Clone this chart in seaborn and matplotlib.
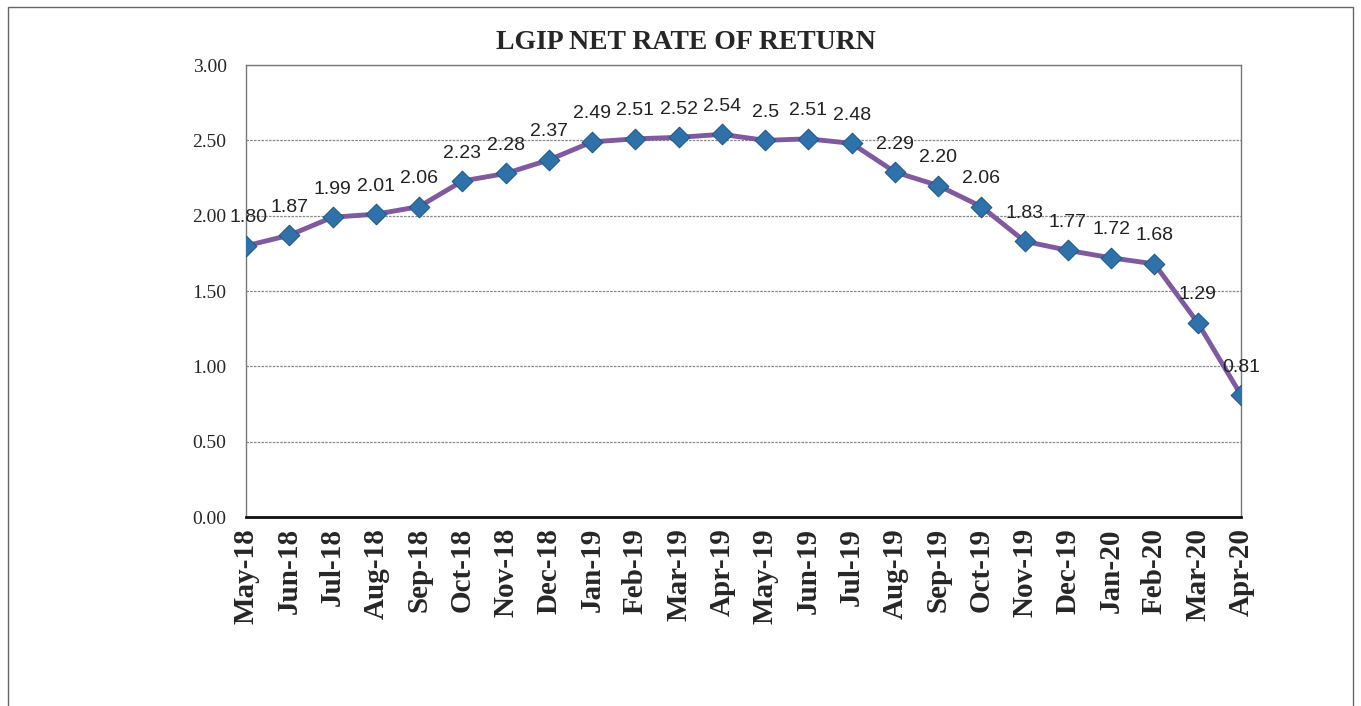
import matplotlib
matplotlib.use("Agg")
import matplotlib.pyplot as plt
import seaborn as sns
import pandas as pd
from matplotlib.patches import Rectangle

months = ["May-18", "Jun-18", "Jul-18", "Aug-18", "Sep-18", "Oct-18", "Nov-18", "Dec-18",
          "Jan-19", "Feb-19", "Mar-19", "Apr-19", "May-19", "Jun-19", "Jul-19", "Aug-19",
          "Sep-19", "Oct-19", "Nov-19", "Dec-19", "Jan-20", "Feb-20", "Mar-20", "Apr-20"]
rates = [1.80, 1.87, 1.99, 2.01, 2.06, 2.23, 2.28, 2.37, 2.49, 2.51, 2.52, 2.54,
         2.50, 2.51, 2.48, 2.29, 2.20, 2.06, 1.83, 1.77, 1.72, 1.68, 1.29, 0.81]
labels = ["1.80", "1.87", "1.99", "2.01", "2.06", "2.23", "2.28", "2.37", "2.49", "2.51",
          "2.52", "2.54", "2.5", "2.51", "2.48", "2.29", "2.20", "2.06", "1.83", "1.77",
          "1.72", "1.68", "1.29", "0.81"]

df = pd.DataFrame({"month": months, "rate": rates})
df["pos"] = range(len(df))

sns.set_style("white")
plt.rcParams["font.family"] = ["Liberation Serif", "DejaVu Serif"]

fig = plt.figure(figsize=(13.61, 7.06), dpi=100)
ax = fig.add_axes([0.1808, 0.2677, 0.7310, 0.6402])

sns.lineplot(data=df, x="pos", y="rate", ax=ax, color="#7f5a9e", linewidth=3.5, zorder=3)
sns.scatterplot(data=df, x="pos", y="rate", ax=ax, marker="D", s=110, color="#2f72aa",
                edgecolor="#1f5a8e", linewidth=0.8, zorder=4)

for i, (v, t) in enumerate(zip(rates, labels)):
    dx = 2 if i == 0 else 0
    ax.annotate(t, (i, v), xytext=(dx, 14), textcoords="offset points", ha="center",
                va="bottom", fontsize=14, family=["Liberation Sans", "DejaVu Sans"],
                color="#222222")

ax.set_xlim(0, len(months) - 1)
ax.set_ylim(0, 3)
ax.set_yticks([0, 0.5, 1.0, 1.5, 2.0, 2.5, 3.0])
ax.set_yticklabels([f"{v:.2f}" for v in [0, 0.5, 1.0, 1.5, 2.0, 2.5, 3.0]], fontsize=14)
ax.set_xticks(df["pos"])
ax.set_xticklabels(months, rotation=90, fontsize=21, fontweight="bold")
ax.tick_params(axis="both", length=0, pad=8)
ax.tick_params(axis="y", pad=14)
ax.yaxis.grid(True, color="#888888", linestyle=(0, (2, 1)), linewidth=0.9)
ax.xaxis.grid(False)
for side in ["top", "right", "left"]:
    ax.spines[side].set_color("#777777")
    ax.spines[side].set_linewidth(1.0)
ax.spines["bottom"].set_color("#111111")
ax.spines["bottom"].set_linewidth(2.0)
ax.set_xlabel("")
ax.set_ylabel("")

fig.text(0.504, 0.94, "LGIP NET RATE OF RETURN", ha="center", va="center",
         fontsize=20, fontweight="bold")

fig.patches.append(Rectangle((0.006, -0.01), 0.988, 1.0, transform=fig.transFigure,
                             fill=False, edgecolor="#666666", linewidth=1.0))

fig.savefig("out.png", dpi=100)
